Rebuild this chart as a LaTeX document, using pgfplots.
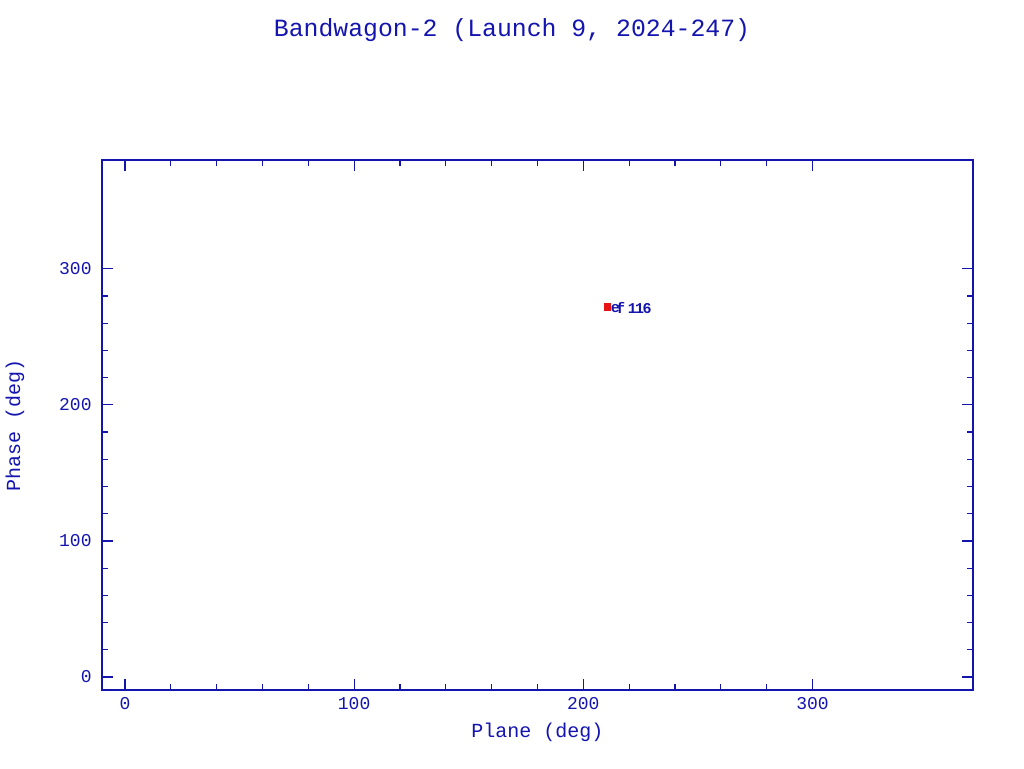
\documentclass[border=0pt]{standalone}
\usepackage{fontspec}
\setmainfont{Liberation Mono}
\usepackage{pgfplots}
\pgfplotsset{compat=1.18}
\definecolor{pgblue}{RGB}{20,20,175}
\definecolor{pgred}{RGB}{230,20,20}
\begin{document}
\begin{tikzpicture}
\useasboundingbox (-51pt,-39pt) rectangle (461pt,345pt);
\begin{axis}[
  at={(0,0)}, anchor=south west,
  scale only axis, width=435.5pt, height=265pt,
  xmin=-10, xmax=370, ymin=-9.6, ymax=380,
  xtick={0,100,200,300}, ytick={0,100,200,300},
  minor x tick num=4, minor y tick num=4,
  tick align=inside, xtick pos=both, ytick pos=both,
  major tick length=5.5pt, minor tick length=2.8pt,
  axis line style={pgblue, line width=0.6pt},
  every tick/.style={pgblue, line width=0.6pt},
  /pgf/number format/assume math mode=true,
  tick label style={pgblue, font=\fontsize{9}{10}\selectfont, inner sep=0pt},
  xticklabel style={anchor=center, yshift=-6.75pt},
  yticklabel style={anchor=east, xshift=-5pt},
  xlabel={Plane (deg)}, ylabel={Phase (deg)},
  label style={pgblue, font=\fontsize{10}{12}\selectfont, inner sep=0pt},
  xlabel style={at={(axis description cs:0.5,0)}, anchor=center, yshift=-21pt},
  ylabel style={at={(axis description cs:0,0.5)}, anchor=center, yshift=43.5pt},
  clip=false,
]
\addplot[only marks, mark=square*, mark size=1.7pt, pgred] coordinates {(210.5,272)};
\addplot[only marks, mark=none, nodes near coords, point meta=explicit symbolic,
  nodes near coords style={pgblue, font=\fontsize{7.5}{8}\selectfont\bfseries, anchor=center, inner sep=0pt}]
  coordinates {(214.0,271)[e] (216.3,271)[f] (221.4,271)[1] (224.6,271)[1] (227.8,271)[6]};
\end{axis}
\node[pgblue, font=\fontsize{12.4}{14}\selectfont] at (205pt,330pt) {Bandwagon-2 (Launch 9, 2024-247)};
\end{tikzpicture}
\end{document}
